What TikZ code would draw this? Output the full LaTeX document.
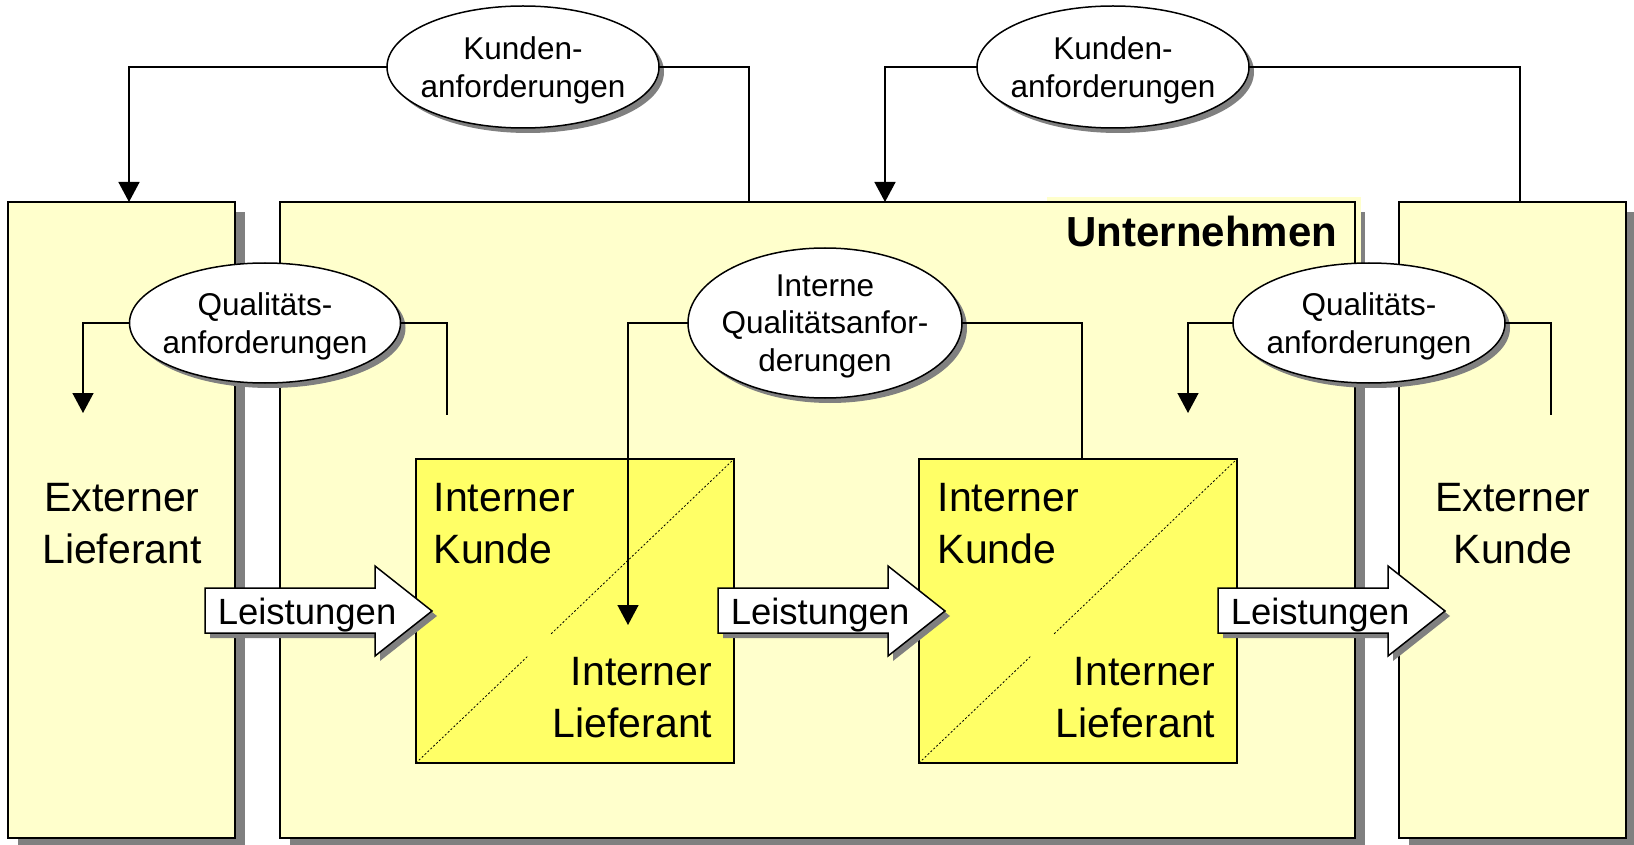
\documentclass[tikz,border=0pt]{standalone}
\usepackage{fontspec}
\setmainfont{Liberation Sans}
\usetikzlibrary{shapes.geometric,shadows,arrows.meta,calc}

\definecolor{hellgelb}{HTML}{FFFFCC}
\definecolor{gelb}{HTML}{FFFF66}
\definecolor{schatten}{HTML}{808080}

\newcommand{\grosstext}{\fontsize{41}{52}\selectfont}
\newcommand{\kleintext}{\fontsize{31.5}{37.5}\selectfont}
\newcommand{\pfeiltext}{\fontsize{36.5}{42}\selectfont}

% Blockpfeil "Leistungen": #1 = linker Rand, #2 = Name des Textknotens
\newcommand{\leistung}[2]{%
  \fill[schatten, shift={(5,5)}] (#1,588) -- (#1+170,588) -- (#1+170,566) -- (#1+227,611)
    -- (#1+170,656) -- (#1+170,633) -- (#1,633) -- cycle;
  \filldraw[fill=white] (#1,588) -- (#1+170,588) -- (#1+170,566) -- (#1+227,611)
    -- (#1+170,656) -- (#1+170,633) -- (#1,633) -- cycle;
  \node[anchor=base west, inner sep=0pt, font=\pfeiltext] (#2) at (#1+12,624) {Leistungen};
}

\begin{document}
\begin{tikzpicture}[x=1pt, y=-1pt, >={Triangle[length=20pt,width=21pt]}, line width=1.5pt]
  \tikzstyle{kasten}=[rectangle, draw=black, fill=hellgelb, anchor=north west, outer sep=0pt,
    minimum height=636, drop shadow={shadow xshift=10pt, shadow yshift=-10pt, fill=schatten, opacity=1}]
  \tikzstyle{innen}=[rectangle, draw=black, fill=gelb, anchor=north west, outer sep=0pt,
    minimum width=318, minimum height=304]
  \tikzstyle{anf}=[ellipse, draw=black, fill=white, align=center, font=\kleintext, text depth=0pt,
    inner xsep=-30pt, inner ysep=0pt, outer sep=0pt,
    drop shadow={shadow xshift=5pt, shadow yshift=-5pt, fill=schatten, opacity=1}]
  \tikzstyle{gross}=[inner sep=0pt, font=\grosstext]
  \tikzstyle{diag}=[line width=0.8pt, dash pattern=on 2pt off 2pt]

  \useasboundingbox (0,0) rectangle (1634,845);

  % Kaesten
  \node[kasten, minimum width=227]  (extlief) at (8,202)    {};
  \node[kasten, minimum width=1075] (unt)     at (280,202)  {};
  \node[kasten, minimum width=227]  (extkd)   at (1399,202) {};

  \fill[hellgelb] (1047,197) rectangle (1361,266);
  \draw (unt.north west) rectangle (unt.south east);
  \node[anchor=base east, inner sep=0pt, font=\fontsize{42}{50}\selectfont\bfseries] (untname)
    at (1338,247) {Unternehmen};

  \node[gross, anchor=base, align=center] (extlieftext) at (122,563)  {Externer\\Lieferant};
  \node[gross, anchor=base, align=center] (extkdtext)   at (1513,563) {Externer\\Kunde};

  % interne Kunden / Lieferanten
  \node[innen] (ik1) at (416,459) {};
  \node[innen] (ik2) at (919,459) {};
  \draw[diag] (ik1.south west) -- ($(ik1.south west)!0.35!(ik1.north east)$);
  \draw[diag] ($(ik1.south west)!0.425!(ik1.north east)$) -- (ik1.north east);
  \draw[diag] (ik2.south west) -- ($(ik2.south west)!0.35!(ik2.north east)$);
  \draw[diag] ($(ik2.south west)!0.425!(ik2.north east)$) -- (ik2.north east);
  \node[gross, anchor=base west, align=left]  (ik1kd)   at (433,563) {Interner\\Kunde};
  \node[gross, anchor=base east, align=right] (ik1lief) at (713,737) {Interner\\Lieferant};
  \node[gross, anchor=base west, align=left]  (ik2kd)   at (937,563) {Interner\\Kunde};
  \node[gross, anchor=base east, align=right] (ik2lief) at (1216,737) {Interner\\Lieferant};

  % Anforderungen
  \node[anf, minimum width=272, minimum height=122] (kanf1) at (523,67)   {Kunden-\\anforderungen};
  \node[anf, minimum width=272, minimum height=122] (kanf2) at (1113,67)  {Kunden-\\anforderungen};
  \node[anf, minimum width=271, minimum height=120] (qanf1) at (265,323)  {Qualitäts-\\anforderungen};
  \node[anf, minimum width=274, minimum height=150] (ianf)  at (825,323)  {Interne\\Qualitätsanfor-\\derungen};
  \node[anf, minimum width=272, minimum height=120] (qanf2) at (1369,323) {Qualitäts-\\anforderungen};

  \coordinate (kanf1in)  at (129,202);
  \coordinate (kanf1out) at (749,202);
  \coordinate (kanf2in)  at (885,202);
  \coordinate (kanf2out) at (1520,202);
  \coordinate (qanf1in)  at (83,413);
  \coordinate (qanf1out) at (447,415);
  \coordinate (ianfin)   at (628,625);
  \coordinate (ianfout)  at (1082,459);
  \coordinate (qanf2in)  at (1188,413);
  \coordinate (qanf2out) at (1551,415);

  \draw[->] (kanf1.west) -| (kanf1in);
  \draw     (kanf1.east) -| (kanf1out);
  \draw[->] (kanf2.west) -| (kanf2in);
  \draw     (kanf2.east) -| (kanf2out);
  \draw[->] (qanf1.west) -| (qanf1in);
  \draw     (qanf1.east) -| (qanf1out);
  \draw[->] (ianf.west)  -| (ianfin);
  \draw     (ianf.east)  -| (ianfout);
  \draw[->] (qanf2.west) -| (qanf2in);
  \draw     (qanf2.east) -| (qanf2out);

  % Leistungen
  \leistung{205}{leist1}
  \leistung{718}{leist2}
  \leistung{1218}{leist3}
\end{tikzpicture}
\end{document}
